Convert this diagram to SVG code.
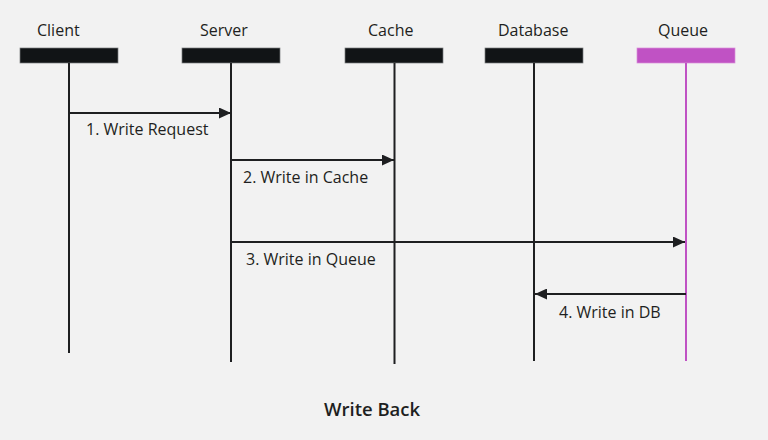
<svg xmlns="http://www.w3.org/2000/svg" width="768" height="440" viewBox="0 0 768 440">
<defs>
<style>
.lbl{font-family:"Open Sans","Noto Sans",sans-serif;font-size:16px;fill:#1e1f21}
.title{font-family:"Open Sans","Noto Sans",sans-serif;font-size:18.5px;font-weight:600;fill:#1e1f21}
.bar{fill:#111416;stroke:#7a7c7e;stroke-width:0.7}
.life{stroke:#1e1f21;stroke-width:2}
.msg{stroke:#1e1f21;stroke-width:2;fill:none;marker-end:url(#ah)}
</style>
<marker id="ah" viewBox="0 0 12 11" refX="12" refY="5.5" markerWidth="12" markerHeight="11" markerUnits="userSpaceOnUse" orient="auto">
<path d="M0,0 L12,5.5 L0,11 Z" fill="#1e1f21"/>
</marker>
</defs>
<rect width="768" height="440" fill="#f2f2f2"/>
<g id="client">
<text class="lbl" x="37" y="36">Client</text>
<rect class="bar" x="20" y="48" width="98" height="15"/>
<line class="life" x1="69" y1="63" x2="69" y2="353"/>
</g>
<g id="server">
<text class="lbl" x="200" y="36">Server</text>
<rect class="bar" x="182" y="48" width="98" height="15"/>
<line class="life" x1="231" y1="63" x2="231" y2="362"/>
</g>
<g id="cache">
<text class="lbl" x="368" y="36">Cache</text>
<rect class="bar" x="345" y="48" width="98" height="15"/>
<line class="life" x1="394.5" y1="63" x2="394.5" y2="364"/>
</g>
<g id="database">
<text class="lbl" x="498" y="36">Database</text>
<rect class="bar" x="485" y="48" width="98" height="15"/>
<line class="life" x1="534" y1="63" x2="534" y2="361"/>
</g>
<g id="queue">
<text class="lbl" x="658" y="36">Queue</text>
<rect x="637" y="48" width="98" height="15" fill="#c052c4" stroke="#d98fdb" stroke-width="0.7"/>
<line x1="686" y1="63" x2="686" y2="361" stroke="#c052c4" stroke-width="2"/>
</g>
<g id="connectors">
<line class="msg" x1="69" y1="113" x2="231" y2="113"/>
<line class="msg" x1="231" y1="160" x2="394" y2="160"/>
<line class="msg" x1="231" y1="242" x2="685" y2="242"/>
<line class="msg" x1="686" y1="294" x2="535" y2="294"/>
<text class="lbl" x="86" y="135">1. Write Request</text>
<text class="lbl" x="243" y="183">2. Write in Cache</text>
<text class="lbl" x="246" y="265">3. Write in Queue</text>
<text class="lbl" x="559" y="318">4. Write in DB</text>
</g>
<text class="title" x="324" y="416">Write Back</text>
</svg>
